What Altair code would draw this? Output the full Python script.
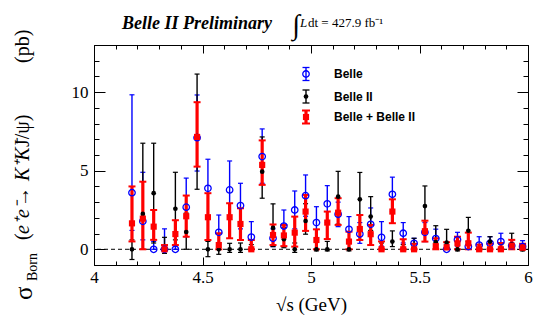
import altair as alt
import pandas as pd

# ---------------- data ----------------
energy = [4.175, 4.225, 4.275, 4.325, 4.375, 4.425, 4.475, 4.525, 4.575, 4.625,
          4.675, 4.725, 4.775, 4.825, 4.875, 4.925, 4.975, 5.025, 5.075, 5.125,
          5.175, 5.225, 5.275, 5.325, 5.375, 5.425, 5.475, 5.525, 5.575, 5.625,
          5.675, 5.725, 5.775, 5.825, 5.875, 5.925, 5.975]

belle_val = [3.60, 1.78, 0.00, 0.00, 0.00, 2.68, 7.10, 3.88, 1.08, 3.78,
             2.78, 0.78, 5.90, 0.70, 1.48, 2.50, 3.41, 1.70, 2.89, 2.23,
             1.27, 0.97, 1.59, 0.76, 3.50, 1.02, 0.38, 1.08, 0.68, 0.00,
             0.60, 0.17, 0.27, 0.38, 0.49, 0.23, 0.17]
belle_lo = [1.20, 0.60, 0.00, 0.00, 0.00, 0.80, 4.98, 2.00, 0.30, 1.90,
            1.30, 0.10, 4.20, 0.17, 0.80, 1.30, 2.10, 0.70, 1.70, 1.44,
            0.50, 0.38, 1.00, 0.20, 2.40, 0.40, 0.10, 0.49, 0.30, 0.00,
            0.20, 0.00, 0.00, 0.00, 0.10, 0.00, 0.00]
belle_hi = [9.83, 4.90, 0.50, 1.30, 0.20, 4.53, 9.82, 5.73, 2.18, 5.62,
            4.20, 1.76, 7.66, 1.30, 2.50, 3.71, 4.73, 2.71, 4.05, 3.00,
            2.08, 1.70, 2.63, 1.76, 4.59, 1.70, 0.70, 1.70, 1.28, 0.30,
            1.08, 0.50, 0.80, 0.80, 1.02, 0.60, 0.55]

b2_val = [0.00, 2.25, 3.57, 0.00, 2.58, 1.10, 7.20, 0.00, 0.00, 0.00,
          0.00, 0.00, 4.94, 1.36, 0.64, 0.00, 1.80, 0.00, 0.00, 3.35,
          0.00, 3.18, 2.08, 0.00, 0.49, 0.00, 0.00, 2.75, 0.45, 0.42,
          0.00, 1.18, 0.00, 0.49, 0.00, 0.32, 0.00]
b2_lo = [-0.65, 0.00, 0.40, -0.26, 0.60, 0.00, 3.82, -0.47, -0.32, -0.20,
         -0.20, -0.10, 3.25, 0.17, 0.10, -0.20, 0.96, -0.10, -0.10, 1.60,
         -0.10, 0.60, 1.20, -0.10, 0.17, -0.10, -0.10, 1.23, 0.10, 0.10,
         -0.10, 0.50, -0.10, 0.10, -0.10, 0.00, -0.10]
b2_hi = [0.60, 6.75, 6.75, 0.76, 4.90, 2.30, 11.15, 0.50, 0.40, 0.38,
         0.40, 0.30, 7.15, 2.89, 1.40, 0.40, 2.90, 0.50, 0.50, 4.96,
         0.40, 4.89, 3.35, 0.40, 1.17, 0.30, 0.70, 4.03, 1.50, 1.27,
         0.30, 2.03, 0.30, 0.80, 0.30, 1.02, 0.30]

comb_val = [1.65, 1.95, 1.44, 0.00, 0.97, 2.10, 7.15, 2.04, 0.27, 2.04,
            1.61, 0.00, 5.37, 0.91, 0.88, 1.06, 2.40, 0.59, 1.70, 2.33,
            0.49, 1.29, 0.96, 0.00, 2.40, 0.00, 0.00, 1.15, 0.20, 0.13,
            0.38, 0.38, 0.00, 0.00, 0.00, 0.23, 0.10]
comb_lo = [0.50, 0.00, 0.60, 0.00, 0.27, 0.80, 5.26, 0.59, 0.00, 0.70,
           0.59, 0.00, 4.10, 0.27, 0.20, 0.17, 1.17, 0.00, 0.65, 1.55,
           0.00, 0.59, 0.27, 0.00, 1.66, 0.00, 0.00, 0.49, 0.00, 0.00,
           0.00, 0.00, 0.00, 0.00, 0.00, 0.00, 0.00]
comb_hi = [4.00, 4.30, 2.50, 0.27, 1.85, 3.42, 9.36, 3.57, 1.02, 2.93,
           2.61, 0.59, 6.93, 1.58, 1.55, 2.08, 3.46, 1.27, 2.40, 3.25,
           1.12, 2.18, 1.55, 0.50, 3.18, 0.64, 0.35, 1.82, 0.70, 0.45,
           0.80, 1.06, 0.30, 0.35, 0.40, 0.60, 0.35]

x_major = [4, 4.5, 5, 5.5, 6]
x_minor = [4.0, 4.1, 4.2, 4.3, 4.4, 4.5, 4.6, 4.7, 4.8, 4.9, 5.0,
           5.1, 5.2, 5.3, 5.4, 5.5, 5.6, 5.7, 5.8, 5.9, 6.0]
y_major = [0, 5, 10]
y_minor = [-1, 0, 1, 2, 3, 4, 5, 6, 7, 8, 9, 10, 11, 12, 13]

series_labels = ["Belle", "Belle II", "Belle + Belle II"]

# ---------------- layout ----------------
W, H = 434, 220
BLUE, BLACK, RED = "#0000ff", "#000000", "#ff0000"
SERIF = "Liberation Serif"
SANS = "Liberation Sans"

xs = alt.Scale(domain=[4, 6], nice=False, zero=False)
ys = alt.Scale(domain=[-1, 13], nice=False, zero=False)

belle = pd.DataFrame({"x": energy, "v": belle_val, "lo": belle_lo, "hi": belle_hi})
b2 = pd.DataFrame({"x": energy, "v": b2_val, "lo": b2_lo, "hi": b2_hi})
comb = pd.DataFrame({"x": energy, "v": comb_val, "lo": comb_lo, "hi": comb_hi})
one = pd.DataFrame({"a": [0]})

X = alt.X("x:Q", scale=xs, axis=None)


def Y(field):
    return alt.Y(f"{field}:Q", scale=ys, axis=None)


def bars(df, color, sw, capw, capt):
    base = alt.Chart(df)
    rule = base.mark_rule(color=color, strokeWidth=sw).encode(x=X, y=Y("lo"), y2="hi:Q")
    c1 = base.mark_tick(color=color, orient="horizontal", size=capw, thickness=capt,
                        opacity=1).encode(x=X, y=Y("lo"))
    c2 = base.mark_tick(color=color, orient="horizontal", size=capw, thickness=capt,
                        opacity=1).encode(x=X, y=Y("hi"))
    return [rule, c1, c2]


def axis_layer(xaxis, yaxis):
    return alt.Chart(belle).mark_point(opacity=0).encode(
        x=alt.X("x:Q", scale=xs, axis=xaxis),
        y=alt.Y("v:Q", scale=ys, axis=yaxis),
    )


common = dict(grid=False, domain=False, title=None)
tick_style = dict(labels=False, ticks=True, tickColor="black", tickWidth=1)

ax_layers = [
    axis_layer(
        alt.Axis(orient="bottom", values=x_major, format="~g", ticks=False, domain=False,
                 grid=False, labelFont=SERIF, labelFontSize=17, labelColor="black",
                 labelPadding=4, labelFlush=False, labelOverlap=False,
                 title="√s (GeV)", titleFont=SERIF, titleFontSize=19,
                 titleFontWeight="normal", titleColor="black", titlePadding=10),
        alt.Axis(orient="left", values=y_major, format="d", ticks=False, domain=False,
                 grid=False, labelFont=SERIF, labelFontSize=17, labelColor="black",
                 labelPadding=6, labelFlush=False, labelOverlap=False, title=None),
    ),
    axis_layer(alt.Axis(orient="top", offset=-H, values=x_major, tickSize=8, **tick_style, **common),
               alt.Axis(orient="right", offset=-W, values=y_major, tickSize=11, **tick_style, **common)),
    axis_layer(alt.Axis(orient="top", offset=-H, values=x_minor, tickSize=4, **tick_style, **common),
               alt.Axis(orient="right", offset=-W, values=y_minor, tickSize=5, **tick_style, **common)),
    axis_layer(alt.Axis(orient="bottom", offset=-H, values=x_major, tickSize=8, **tick_style, **common),
               alt.Axis(orient="left", offset=-W, values=y_major, tickSize=11, **tick_style, **common)),
    axis_layer(alt.Axis(orient="bottom", offset=-H, values=x_minor, tickSize=4, **tick_style, **common),
               alt.Axis(orient="left", offset=-W, values=y_minor, tickSize=5, **tick_style, **common)),
]

zero_line = alt.Chart(one).mark_rule(color="black", strokeWidth=1, strokeDash=[4, 3]).encode(
    y=alt.YDatum(0, scale=ys, axis=None)
)

data_layers = (
    bars(belle, BLUE, 1.4, 5, 1.2)
    + bars(b2, BLACK, 1.4, 5, 1.2)
    + bars(comb, RED, 3.2, 7, 2)
    + [
        alt.Chart(belle).mark_point(shape="circle", filled=False, color=BLUE, size=42,
                                    strokeWidth=1.3, opacity=1).encode(x=X, y=Y("v")),
        alt.Chart(b2).mark_circle(color=BLACK, size=22, opacity=1).encode(x=X, y=Y("v")),
        alt.Chart(comb).mark_square(color=RED, size=38, opacity=1).encode(x=X, y=Y("v")),
    ]
)


def text(t, x, y, size, font=SERIF, weight="normal", style="normal", angle=0,
         align="left", baseline="alphabetic", color="black"):
    return alt.Chart(one).mark_text(
        text=t, font=font, fontSize=size, fontWeight=weight, fontStyle=style,
        angle=angle, align=align, baseline=baseline, color=color,
    ).encode(x=alt.value(x), y=alt.value(y))


# ---------------- legend (manual) ----------------
legend_layers = []
leg_x = 212
leg_rows = [(29, BLUE, 1.4, "o"), (51.5, BLACK, 1.4, "d"), (72, RED, 3.2, "s")]
for (ly, col, sw, kind), lab in zip(leg_rows, series_labels):
    half = 6.5
    legend_layers.append(alt.Chart(one).mark_rule(color=col, strokeWidth=sw).encode(
        x=alt.value(leg_x), y=alt.value(ly - half), y2=alt.value(ly + half)))
    cw = 3.5 if kind != "s" else 4
    for yy in (ly - half, ly + half):
        legend_layers.append(alt.Chart(one).mark_rule(color=col, strokeWidth=1.3 if kind != "s" else 2).encode(
            x=alt.value(leg_x - cw), x2=alt.value(leg_x + cw), y=alt.value(yy)))
    if kind == "o":
        legend_layers.append(alt.Chart(one).mark_point(shape="circle", filled=False, color=col, size=42,
                                                       strokeWidth=1.3, opacity=1).encode(
            x=alt.value(leg_x), y=alt.value(ly)))
    elif kind == "d":
        legend_layers.append(alt.Chart(one).mark_circle(color=col, size=22, opacity=1).encode(
            x=alt.value(leg_x), y=alt.value(ly)))
    else:
        legend_layers.append(alt.Chart(one).mark_square(color=col, size=38, opacity=1).encode(
            x=alt.value(leg_x), y=alt.value(ly)))
    legend_layers.append(text(lab, 240, ly, 12, font=SANS, weight="bold", baseline="middle"))

# ---------------- texts ----------------
text_layers = [
    text("Belle II Preliminary", 28, -16, 18, weight="bold", style="italic"),
    text("∫", 202, -19, 28, align="center", baseline="middle"),
    text("L", 206, -18, 13, style="italic"),
    text("dt = 427.9 fb⁻¹", 214, -18, 13),
    # y-axis title pieces (rotated)
    text("σ", -62, 255, 25, angle=270),
    text("Born", -57, 236, 14, angle=270),
    text("(", -65, 195, 20, angle=270),
    text("e⁺e⁻", -65, 189, 20, angle=270, style="italic"),
    text("→", -65, 162, 20, angle=270),
    text("K⁺K⁻", -65, 136, 20, angle=270, style="italic"),
    text("J/ψ)", -65, 102, 20, angle=270),
    text("(pb)", -65, 18, 20, angle=270),
]

chart = alt.layer(
    *ax_layers, zero_line, *data_layers, *legend_layers, *text_layers
).resolve_axis(x="independent", y="independent").properties(
    width=W, height=H,
    padding={"left": 86, "top": 37, "right": 12, "bottom": 60},
    autosize=alt.AutoSizeParams(type="none"),
    background="white",
).configure_view(stroke="black", strokeWidth=1)

chart.save("out.html", embed_options={"renderer": "svg", "actions": False})
